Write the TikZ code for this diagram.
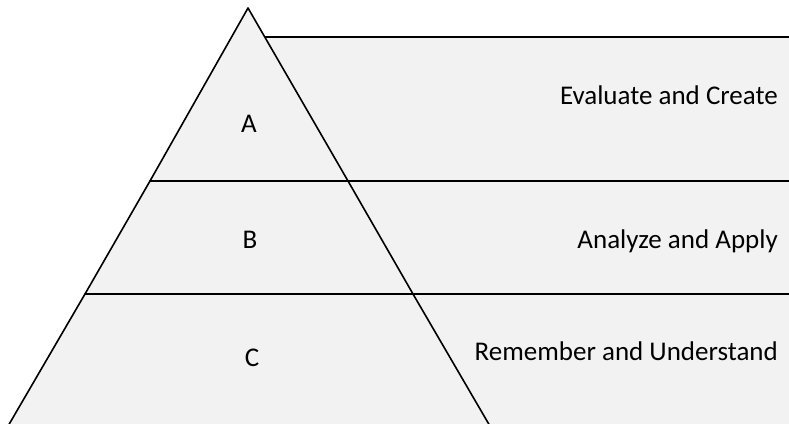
\documentclass[tikz,border=0pt]{standalone}
\usepackage{fontspec}
\setmainfont{Carlito}
\definecolor{bandgray}{HTML}{F2F2F2}
\begin{document}
\begin{tikzpicture}[x=1pt,y=1pt,
  band/.style={fill=bandgray,draw=black,line width=1.5pt,line join=round},
  tier/.style={fill=bandgray,draw=black,line width=1.6pt,line join=round},
  desc/.style={anchor=base east,inner sep=0pt,font=\fontsize{27}{32}\selectfont},
  letter/.style={anchor=base,inner sep=0pt,font=\fontsize{27}{32}\selectfont}]
\useasboundingbox (0,0) rectangle (789,423);
% right-hand bands
\path[band] (250,386) rectangle (800,242);
\path[band] (250,242) rectangle (800,129);
\path[band] (250,129) rectangle (800,-10);
% pyramid tiers
\path[tier] (248,415) -- (150,242) -- (348,242) -- cycle;
\path[tier] (150,242) -- (348,242) -- (413,129) -- (85,129) -- cycle;
\path[tier] (85,129) -- (413,129) -- (494,-10) -- (4,-10) -- cycle;
% texts
\node[desc] (t1) at (778,318) {Evaluate and Create};
\node[desc] (t2) at (778,174) {Analyze and Apply};
\node[desc] (t3) at (778,63) {Remember and Understand};
\node[letter] (a) at (249,290) {A};
\node[letter] (b) at (250,174) {B};
\node[letter] (c) at (252,57) {C};
\end{tikzpicture}
\end{document}
